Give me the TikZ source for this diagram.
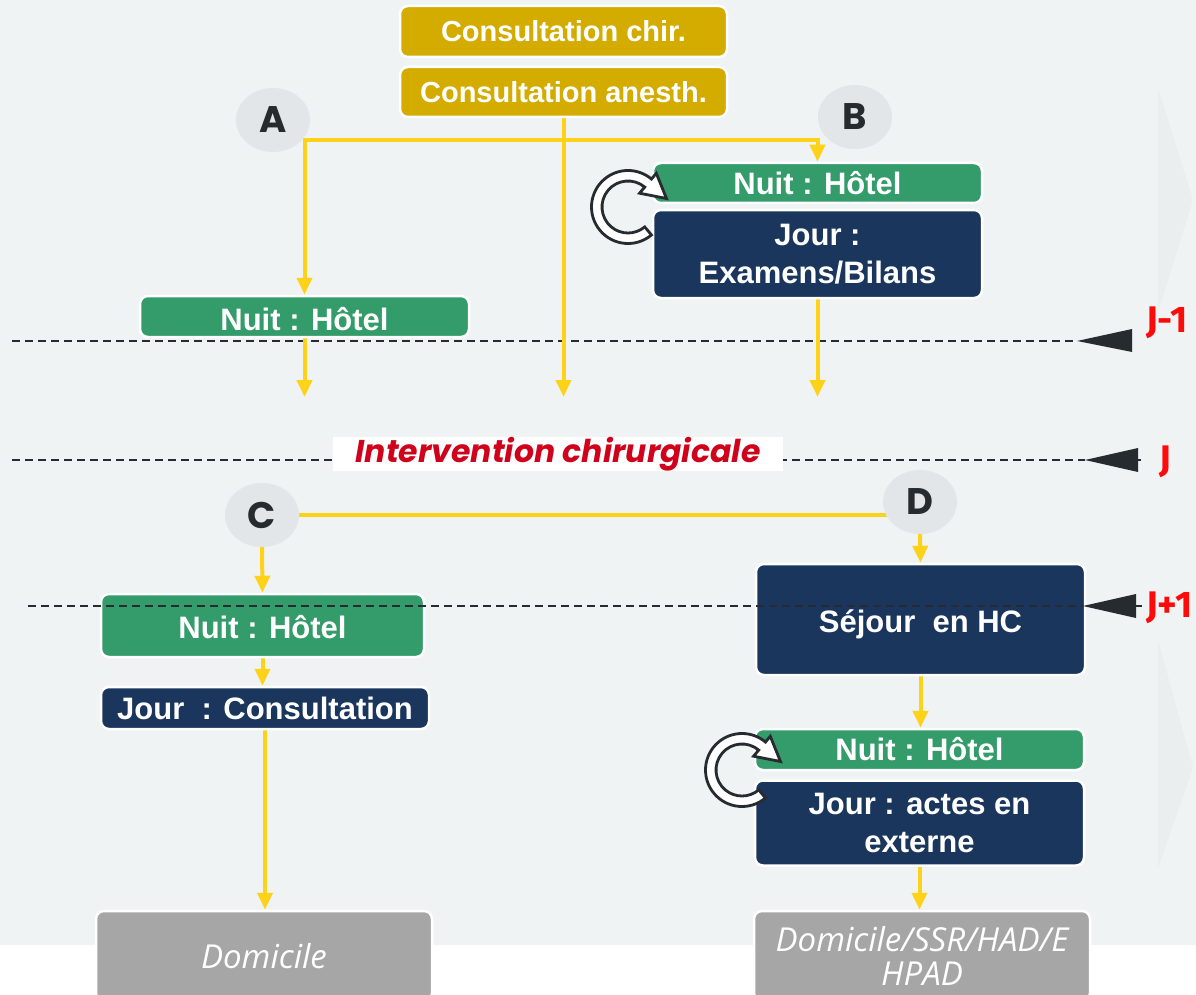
\documentclass[tikz,border=0pt]{standalone}
\usepackage{fontspec}
\setmainfont{Liberation Sans}
\newfontfamily\popfont{Poppins}
\newfontfamily\labfont{Fira Sans}
\newfontfamily\domfont{Open Sans}
\usetikzlibrary{shapes.geometric,arrows.meta,backgrounds}

\definecolor{bgpanel}{HTML}{EFF3F4}
\definecolor{chev}{HTML}{EAEEEF}
\definecolor{gold}{HTML}{D4AC00}
\definecolor{nightgreen}{HTML}{349B6A}
\definecolor{dayblue}{HTML}{1A365D}
\definecolor{exitgray}{HTML}{A6A6A6}
\definecolor{flowyellow}{HTML}{FFD21A}
\definecolor{badgegray}{HTML}{E3E6E8}
\definecolor{ink}{HTML}{262B30}
\definecolor{dayred}{HTML}{FF0A0A}
\definecolor{opred}{HTML}{D0021B}

\tikzset{
  box/.style={draw=white, line width=2.5pt, rounded corners=8pt, text=white,
    inner sep=0pt, align=center, font=\bfseries\fontsize{31}{38}\selectfont},
  consult/.style={box, fill=gold, font=\bfseries\fontsize{29}{34}\selectfont},
  night/.style={box, fill=nightgreen},
  day/.style={box, fill=dayblue},
  exitbox/.style={box, fill=exitgray, font=\domfont\itshape\fontsize{33}{34}\selectfont},
  badge/.style={ellipse, fill=badgegray, text=ink, inner sep=0pt,
    minimum width=74pt, minimum height=64pt,
    font=\popfont\bfseries\fontsize{37}{37}\selectfont},
  flow/.style={draw=flowyellow, line width=4pt, -{Triangle[width=15pt,length=17pt]}},
  link/.style={draw=flowyellow, line width=4pt},
  dayline/.style={draw=ink, line width=1.8pt, dash pattern=on 8pt off 5pt},
  daytip/.style={fill=ink},
  daylabel/.style={text=dayred, font=\labfont\bfseries\fontsize{37}{37}\selectfont,
    anchor=west, inner sep=0pt},
  looparrow/.style={fill=white, draw=ink, line width=2.8pt, line join=miter},
}

% hollow circular arrow (night/day cycle), centred on the given point
\newcommand\cycleloop[1]{%
  \begin{scope}[shift={(#1)}]
    \filldraw[looparrow]
      (50:36.5) arc[start angle=50, end angle=310, radius=36.5]
      -- (310:44) -- (38.5,-8.5) -- (310:18) -- (310:26)
      arc[start angle=310, end angle=50, radius=26] -- cycle;
  \end{scope}}

\begin{document}
\begin{tikzpicture}[x=1pt, y=-1pt]
\useasboundingbox (0,0) rectangle (1196,995);

% ---------- boxes ----------
\node[consult, minimum width=327, minimum height=51] (chir) at (563.5,31.5) {Consultation chir.};
\node[consult, minimum width=327, minimum height=50] (anesth) at (563.5,92) {Consultation anesth.};

\node[night, minimum width=329, minimum height=41, text height=27pt, text depth=0pt] (nuitA) at (304.5,316.5) {Nuit : Hôtel};

\node[night, minimum width=329, minimum height=40] (nuitB) at (817.5,183) {Nuit : Hôtel};
\node[day, minimum width=329, minimum height=88] (jourB) at (817.5,254) {Jour :\\Examens/Bilans};

\node[night, minimum width=323, minimum height=63, text height=26pt, text depth=0pt] (nuitC) at (262.5,625.5) {Nuit : Hôtel};
\node[day, minimum width=328, minimum height=42] (jourC) at (265,708) {Jour~~: Consultation};

\node[day, minimum width=329, minimum height=111, text height=26pt, text depth=0pt] (sejour) at (920.5,619.5) {Séjour~~en HC};
\node[night, minimum width=329, minimum height=41] (nuitD) at (919.5,749.5) {Nuit : Hôtel};
\node[day, minimum width=329, minimum height=85] (jourD) at (919.5,823) {Jour : actes en\\externe};

\node[exitbox, minimum width=336, minimum height=90] (dom1) at (264,956) {Domicile};
\node[exitbox, minimum width=336, minimum height=90] (dom2) at (922,956) {Domicile/SSR/HAD/E\\HPAD};

% ---------- badges ----------
\node[badge] (A) at (273,120) {A};
\node[badge] (B) at (855,117) {B};
\node[badge] (C) at (262,515) {C};
\node[badge] (D) at (920,502) {D};

% ---------- operation day label ----------
\node[fill=white, minimum width=450, minimum height=32, inner sep=0pt, text=opred,
      font=\popfont\bfseries\itshape\fontsize{31.5}{31.5}\selectfont] (op) at (558,454)
      {Intervention chirurgicale};

% ---------- free ends and day markers ----------
\coordinate (endA) at (304.5,397);
\coordinate (endAn) at (563.5,397);
\coordinate (endB) at (817.5,397);
\coordinate (split) at (563.5,140);

\coordinate (dm1L) at (12,341);   \coordinate (dm1R) at (1077,341);
\coordinate (d0L) at (12,460);    \coordinate (d0R) at (1085,460);
\coordinate (dp1L) at (28,606);   \coordinate (dp1R) at (1083,606);

\begin{scope}[on background layer]
  % panel and faint chevrons
  \fill[bgpanel] (0,0) rectangle (1196,945);
  \fill[chev] (1158,88) -- (1193,200) -- (1158,312) -- cycle;
  \fill[chev] (1158,640) -- (1193,768) -- (1158,868) -- cycle;

  % day separators J-1 and J
  \draw[dayline] (dm1L) -- (dm1R);
  \draw[dayline] (d0L) -- (d0R);

  % connectors
  \draw[flow] (split) -| (nuitA.north);
  \draw[flow] (split) -| (nuitB.north);
  \draw[flow] (anesth.south) -- (endAn);
  \draw[flow] (nuitA.south) -- (endA);
  \draw[flow] (jourB.south) -- (endB);

  \draw[link] (C.east) -- (C.east -| D.center);
  \draw[flow] (C.south) -- (nuitC.north);
  \draw[flow] (nuitC.south) -- (nuitC.south |- jourC.north);
  \draw[flow] (jourC.south) -- (jourC.south |- dom1.north);

  \draw[flow] (D.south) -- (sejour.north);
  \draw[flow] (sejour.south) -- (sejour.south |- nuitD.north);
  \draw[flow] (jourD.south) -- (jourD.south |- dom2.north);
\end{scope}

% day separator J+1, drawn across the boxes
\draw[dayline] (dp1L) -- (dp1R);

% day marker arrowheads
\fill[daytip] (dm1R) -- (1132,329) -- (1132,352) -- cycle;
\fill[daytip] (d0R) -- (1138,448) -- (1138,472) -- cycle;
\draw[ink, line width=1.8pt] (1137,460) -- (1141,460);
\fill[daytip] (dp1R) -- (1136,594) -- (1136,618) -- cycle;
\draw[ink, line width=1.8pt] (1135,606) -- (1142,606);

\node[daylabel] (lm1) at (1146,323) {J-1};
\node[daylabel] (l0) at (1159,462) {J};
\node[daylabel] (lp1) at (1146,608) {J+1};

% night/day cycles
\cycleloop{628,207}
\cycleloop{742,770}

\end{tikzpicture}
\end{document}
